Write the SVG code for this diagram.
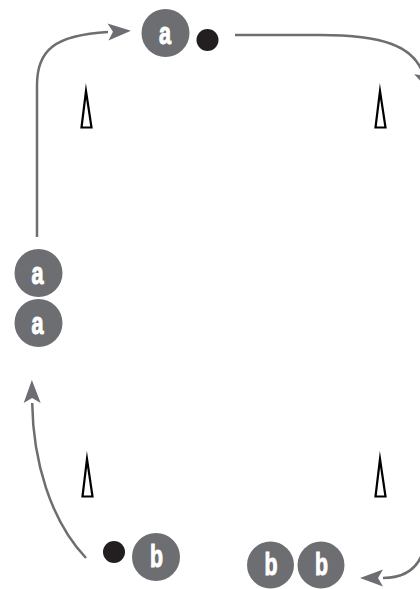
<svg xmlns="http://www.w3.org/2000/svg" width="420" height="589" viewBox="0 0 420 589">
<style>
.p{fill:#6d6e71}
.dot{fill:#231f20}
.t{font-family:"Liberation Sans",Arial,sans-serif;font-weight:bold;font-size:32px;fill:#fff;stroke:#fff;stroke-width:1.1;text-anchor:middle}
.c{fill:none;stroke:#6d6e71;stroke-width:2.5}
.cone{fill:#fff;stroke:#000;stroke-width:2.2;stroke-linejoin:miter;stroke-miterlimit:20}
</style>
<defs>
<marker id="ah" markerUnits="userSpaceOnUse" viewBox="-2 -10 26 20" refX="0" refY="0" markerWidth="26" markerHeight="20" orient="auto">
<path d="M23,0 L0,-8.5 L5,0 L0,8.5 Z" fill="#6d6e71"/>
</marker>
</defs>
<g id="connectors">
<path class="c" d="M37,237 L37,85 C37,50 55,35 108,32" marker-end="url(#ah)"/>
<path class="c" d="M235,35 L320,35 C385,35 412,47 422,71" marker-end="url(#ah)"/>
<path class="c" d="M86,558 C50,520 33,460 32.2,403" marker-end="url(#ah)"/>
<path class="c" d="M425,545 C420,568 405,578 383,578" marker-end="url(#ah)"/>
</g>
<g id="cones">
<polygon class="cone" points="86,91 81.5,127.5 91.5,127.5"/>
<polygon class="cone" points="380,91 375.5,127.5 385.5,127.5"/>
<polygon class="cone" points="87,459 82.5,496.5 92.5,496.5"/>
<polygon class="cone" points="380,459 375.5,496.5 385.5,496.5"/>
</g>
<g id="node-a-top">
<circle class="p" cx="165.5" cy="33" r="24"/>
<text class="t" x="165" y="44" textLength="12" lengthAdjust="spacingAndGlyphs">a</text>
</g>
<g id="ball-top"><circle class="dot" cx="207.5" cy="40" r="11"/></g>
<g id="node-a-left1">
<circle class="p" cx="38.5" cy="273" r="24"/>
<text class="t" x="37.5" y="284" textLength="12" lengthAdjust="spacingAndGlyphs">a</text>
</g>
<g id="node-a-left2">
<circle class="p" cx="38.5" cy="323" r="24"/>
<text class="t" x="37.5" y="334" textLength="12" lengthAdjust="spacingAndGlyphs">a</text>
</g>
<g id="ball-bottom"><circle class="dot" cx="114" cy="552" r="11"/></g>
<g id="node-b-left">
<circle class="p" cx="156" cy="557" r="24"/>
<text class="t" x="156.5" y="567" textLength="13" lengthAdjust="spacingAndGlyphs">b</text>
</g>
<g id="node-b-right1">
<circle class="p" cx="270.5" cy="565" r="23.5"/>
<text class="t" x="271" y="575" textLength="13" lengthAdjust="spacingAndGlyphs">b</text>
</g>
<g id="node-b-right2">
<circle class="p" cx="321" cy="565" r="23.5"/>
<text class="t" x="321.5" y="575" textLength="13" lengthAdjust="spacingAndGlyphs">b</text>
</g>
</svg>
